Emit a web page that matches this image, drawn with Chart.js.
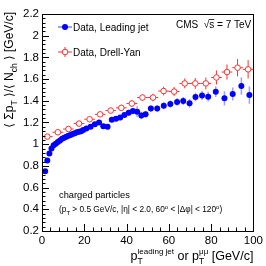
<!DOCTYPE html>
<html>
<head>
<meta charset="utf-8">
<script src="https://cdn.jsdelivr.net/npm/chart.js@4.4.1/dist/chart.umd.min.js"></script>
<style>
  html, body { margin: 0; padding: 0; background: #fff; }
  canvas { display: block; }
</style>
</head>
<body>
<canvas id="chart" width="266" height="266"></canvas>
<script>
// Leading jet data (blue)
const jetX = [1.5, 2.5, 3.5, 4.5, 5.5, 6.5, 7.5, 8.5, 9.5, 10.5, 11.5, 12.5, 13.5, 14.5, 15.5, 16.5, 17.5, 18.5, 19.5,
              21, 23, 25, 27, 29, 31, 33, 35, 37, 39, 41, 43, 45, 47, 49,
              51.5, 54.5, 57.6, 60.7, 63.9, 66.8, 69.8, 72.6, 75.7, 78.6, 82.2, 86.3, 90.2, 94.3, 98.1];
const jetY = [0.75, 0.85, 0.915, 0.96, 0.99, 1.005, 1.02, 1.035, 1.05, 1.06, 1.068, 1.077, 1.085, 1.095, 1.10, 1.11, 1.115, 1.12, 1.13,
              1.145, 1.16, 1.185, 1.2, 1.165, 1.16, 1.225, 1.235, 1.245, 1.27, 1.29, 1.305, 1.30, 1.265, 1.275,
              1.33, 1.33, 1.355, 1.37, 1.39, 1.398, 1.377, 1.435, 1.45, 1.438, 1.484, 1.423, 1.463, 1.536, 1.453];
const jetErr = [0.005, 0.005, 0.005, 0.005, 0.005, 0.005, 0.006, 0.006, 0.007, 0.008, 0.008, 0.009, 0.01, 0.01, 0.011, 0.012, 0.012, 0.013, 0.014,
                0.015, 0.016, 0.018, 0.02, 0.022, 0.024, 0.02, 0.022, 0.024, 0.025, 0.028, 0.03, 0.05, 0.035, 0.03,
                0.03, 0.03, 0.032, 0.034, 0.035, 0.036, 0.04, 0.04, 0.042, 0.045, 0.05, 0.065, 0.06, 0.08, 0.08];

// Drell-Yan data (red)
const dyX = [2.5, 7.5, 12.5, 17.5, 22.5, 27.5, 32.5, 37.5, 42.5, 47.5, 52.5, 57.5, 62.5, 67.5, 72.5, 77.5, 82.5, 87.5, 92.5, 97.5];
const dyY = [1.07, 1.11, 1.14, 1.19, 1.23, 1.275, 1.31, 1.335, 1.375, 1.43, 1.43, 1.49, 1.485, 1.56, 1.56, 1.56, 1.615, 1.665, 1.705, 1.69];
const dyErr = [0.015, 0.015, 0.018, 0.02, 0.022, 0.024, 0.026, 0.028, 0.03, 0.032, 0.035, 0.04, 0.042, 0.045, 0.05, 0.055, 0.065, 0.07, 0.08, 0.085];
const dyHalfBin = 2.5;

// axis ranges
const xRange = [0, 100, 20];
const yRange = [0.2, 2.2, 0.2];

const FONT = '"Liberation Sans", Arial, "DejaVu Sans", sans-serif';

function toPoints(xs, ys) {
    return xs.map((x, i) => ({ x: x, y: ys[i] }));
}

// rich text helper (sub/superscripts)
function layoutRich(ctx, parts) {
    let x = 0, last = null;
    const items = [];
    parts.forEach(p => {
        ctx.font = p.s + 'px ' + FONT;
        const w = ctx.measureText(p.t).width;
        if (p.stack && last) {
            items.push(Object.assign({}, p, { x: last.x }));
            const nw = Math.max(last.w, w);
            x = last.x + nw;
            last = { x: last.x, w: nw };
        } else {
            items.push(Object.assign({}, p, { x: x }));
            last = { x: x, w: w };
            x += w;
        }
    });
    return { items: items, width: x };
}

function drawRich(ctx, parts, x, y, align) {
    const lay = layoutRich(ctx, parts);
    const x0 = align === 'right' ? x - lay.width : x;
    ctx.textBaseline = 'alphabetic';
    ctx.textAlign = 'left';
    lay.items.forEach(it => {
        ctx.font = it.s + 'px ' + FONT;
        ctx.fillText(it.t, x0 + it.x, y + (it.dy || 0));
    });
    return lay.width;
}

function drawErrors(chart, idx, errs, half, color, width) {
    const ctx = chart.ctx;
    const meta = chart.getDatasetMeta(idx);
    const xs = chart.scales.x, ys = chart.scales.y;
    const data = chart.data.datasets[idx].data;
    ctx.save();
    ctx.strokeStyle = color;
    ctx.lineWidth = width;
    meta.data.forEach((pt, i) => {
        const d = data[i];
        ctx.beginPath();
        ctx.moveTo(pt.x, ys.getPixelForValue(d.y + errs[i]));
        ctx.lineTo(pt.x, ys.getPixelForValue(d.y - errs[i]));
        if (half) {
            ctx.moveTo(xs.getPixelForValue(d.x - half), pt.y);
            ctx.lineTo(xs.getPixelForValue(d.x + half), pt.y);
        }
        ctx.stroke();
    });
    ctx.restore();
}

const rootStyle = {
    id: 'rootStyle',
    beforeDatasetsDraw(chart) {
        drawErrors(chart, 1, dyErr, dyHalfBin, '#ff3030', 1);
        drawErrors(chart, 0, jetErr, 0, 'rgba(40,40,255,0.45)', 1.5);
    },
    afterDraw(chart) {
        const ctx = chart.ctx;
        const a = chart.chartArea;
        const xs = chart.scales.x, ys = chart.scales.y;
        ctx.save();

        // frame
        ctx.strokeStyle = '#000';
        ctx.lineWidth = 1;
        ctx.strokeRect(Math.round(a.left) + 0.5, Math.round(a.top) + 0.5,
                       Math.round(a.right - a.left), Math.round(a.bottom - a.top));

        // inward ticks
        ctx.beginPath();
        const yMinor = yRange[2] / 5;
        for (let v = yRange[0]; v <= yRange[1] + 1e-9; v += yMinor) {
            const k = Math.round((v - yRange[0]) / yMinor);
            const len = k % 5 === 0 ? 7 : 3.5;
            const py = Math.round(ys.getPixelForValue(v)) + 0.5;
            ctx.moveTo(a.left, py);
            ctx.lineTo(a.left + len, py);
        }
        const xMinor = xRange[2] / 5;
        for (let v = xRange[0]; v <= xRange[1] + 1e-9; v += xMinor) {
            const k = Math.round((v - xRange[0]) / xMinor);
            const len = k % 5 === 0 ? 7 : 3.5;
            const px = Math.round(xs.getPixelForValue(v)) + 0.5;
            ctx.moveTo(px, a.bottom);
            ctx.lineTo(px, a.bottom - len);
        }
        ctx.stroke();

        ctx.fillStyle = '#000';

        // y title (rotated)
        const yParts = [
            { t: '\u27E8 \u03A3p', s: 12 },
            { t: 'T', s: 8.5, dy: 3.5 },
            { t: ' \u27E9/\u27E8 N', s: 12 },
            { t: 'ch', s: 8.5, dy: 3.5 },
            { t: ' \u27E9 [GeV/c]', s: 12 }
        ];
        const yw = layoutRich(ctx, yParts).width;
        ctx.save();
        ctx.translate(13, 12 + yw);
        ctx.rotate(-Math.PI / 2);
        drawRich(ctx, yParts, 0, 0, 'left');
        ctx.restore();

        // x title
        drawRich(ctx, [
            { t: 'p', s: 12.5 },
            { t: 'T', s: 8.5, dy: 3.5 },
            { t: 'leading jet', s: 8, dy: -6.5, stack: true },
            { t: ' or p', s: 12.5 },
            { t: 'T', s: 8.5, dy: 3.5 },
            { t: '\u03BC\u03BC', s: 8, dy: -6.5, stack: true },
            { t: ' [GeV/c]', s: 12.5 }
        ], a.right, 260, 'right');

        // legend
        const legX = 65;
        // blue entry
        ctx.strokeStyle = 'rgba(40,40,255,0.6)';
        ctx.lineWidth = 1.5;
        ctx.beginPath();
        ctx.moveTo(legX - 7, 27); ctx.lineTo(legX + 7, 27);
        ctx.stroke();
        ctx.fillStyle = '#0000ff';
        ctx.beginPath(); ctx.arc(legX, 27, 3, 0, Math.PI * 2); ctx.fill();
        // red entry
        ctx.strokeStyle = '#ff3030';
        ctx.lineWidth = 1;
        ctx.beginPath();
        ctx.moveTo(legX - 7, 52); ctx.lineTo(legX + 7, 52);
        ctx.moveTo(legX, 47); ctx.lineTo(legX, 57);
        ctx.stroke();
        ctx.fillStyle = '#fff';
        ctx.beginPath(); ctx.arc(legX, 52, 2.8, 0, Math.PI * 2); ctx.fill(); ctx.stroke();

        ctx.fillStyle = '#000';
        ctx.font = '10px ' + FONT;
        ctx.textBaseline = 'middle';
        ctx.textAlign = 'left';
        ctx.fillText('Data, Leading jet', 73, 28);
        ctx.fillText('Data, Drell-Yan', 73, 53);

        // CMS label
        ctx.fillText('CMS  \u221As = 7 TeV', 176, 25);
        const pre = ctx.measureText('CMS  \u221A').width;
        const sw = ctx.measureText('s').width;
        ctx.fillRect(176 + pre - 0.5, 19, sw + 0.5, 0.8);

        // annotation
        ctx.font = '9.3px ' + FONT;
        ctx.textBaseline = 'alphabetic';
        ctx.fillText('charged particles', 59, 198);
        drawRich(ctx, [
            { t: '(p', s: 8.3 },
            { t: 'T', s: 6, dy: 2.5 },
            { t: ' > 0.5 GeV/c, |\u03B7| < 2.0, 60', s: 8.3 },
            { t: 'o', s: 6, dy: -3.5 },
            { t: ' < |\u0394\u03C6| < 120', s: 8.3 },
            { t: 'o', s: 6, dy: -3.5 },
            { t: ')', s: 8.3 }
        ], 59, 212, 'left');

        ctx.restore();
    }
};

const chart = new Chart(document.getElementById('chart'), {
    type: 'scatter',
    data: {
        datasets: [
            {
                label: 'Data, Leading jet',
                data: toPoints(jetX, jetY),
                pointRadius: 3,
                pointBackgroundColor: '#0000ff',
                pointBorderColor: '#0000ff',
                pointBorderWidth: 0
            },
            {
                label: 'Data, Drell-Yan',
                data: toPoints(dyX, dyY),
                pointRadius: 2.8,
                pointBackgroundColor: '#ffffff',
                pointBorderColor: '#ff3030',
                pointBorderWidth: 1
            }
        ]
    },
    options: {
        responsive: false,
        animation: false,
        devicePixelRatio: 1,
        layout: { padding: { top: 14, right: 10, left: 0, bottom: 0 } },
        plugins: {
            legend: { display: false },
            tooltip: { enabled: false }
        },
        scales: {
            x: {
                type: 'linear',
                min: xRange[0],
                max: xRange[1],
                border: { display: false },
                grid: { display: false, drawTicks: false },
                ticks: {
                    stepSize: xRange[2],
                    color: '#000',
                    padding: 3,
                    maxRotation: 0,
                    font: { family: FONT, size: 11.5 }
                },
                afterFit: s => { s.height = 35; }
            },
            y: {
                type: 'linear',
                min: yRange[0],
                max: yRange[1],
                border: { display: false },
                grid: { display: false, drawTicks: false },
                ticks: {
                    stepSize: yRange[2],
                    color: '#000',
                    padding: 3,
                    font: { family: FONT, size: 11.5 },
                    callback: v => String(Number(v.toFixed(1)))
                },
                afterFit: s => { s.width = 42; }
            }
        }
    },
    plugins: [rootStyle]
});
</script>
</body>
</html>
